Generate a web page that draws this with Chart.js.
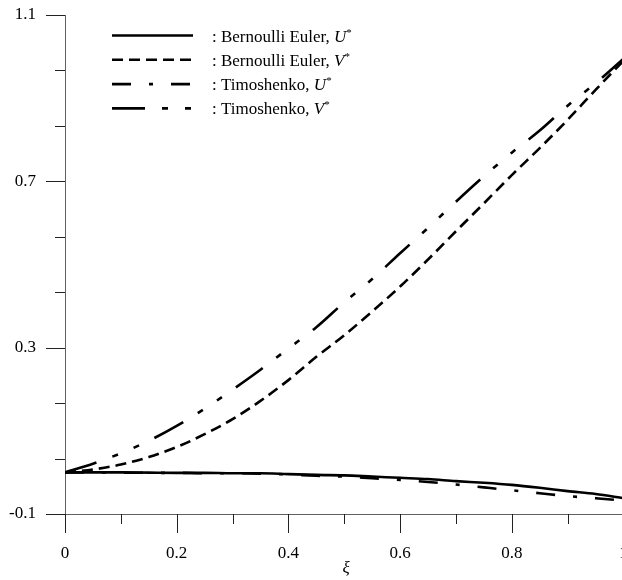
<!DOCTYPE html>
<html>
<head>
<meta charset="utf-8">
<script src="https://cdn.jsdelivr.net/npm/chart.js@4.4.0/dist/chart.umd.min.js"></script>
<style>
  html, body { margin: 0; padding: 0; background: #fff; overflow: hidden; }
  #wrap { width: 622px; height: 580px; overflow: hidden; position: relative; }
  #chart { position: absolute; left: 0; top: 0; }
</style>
</head>
<body>
<div id="wrap"><canvas id="chart" width="632" height="580"></canvas></div>
<script>
"use strict";

const xi = [0, 0.05, 0.1, 0.15, 0.2, 0.25, 0.3, 0.35, 0.4, 0.45, 0.5,
  0.55, 0.6, 0.65, 0.7, 0.75, 0.8, 0.85, 0.9, 0.95, 1];
const beU = [0, 0, 0, -0.0005, -0.001, -0.001, -0.002, -0.002, -0.004, -0.006, -0.007,
  -0.01, -0.013, -0.016, -0.021, -0.025, -0.03, -0.037, -0.045, -0.052, -0.062];
const beV = [0, 0.007, 0.019, 0.037, 0.061, 0.092, 0.128, 0.172, 0.222, 0.278, 0.33,
  0.387, 0.447, 0.512, 0.58, 0.647, 0.715, 0.78, 0.848, 0.92, 0.99];
const tiU = [0, 0, -0.0005, -0.001, -0.001, -0.002, -0.002, -0.003, -0.005, -0.008, -0.01,
  -0.014, -0.018, -0.023, -0.029, -0.036, -0.043, -0.05, -0.057, -0.062, -0.068];
const tiV = [0, 0.021, 0.046, 0.076, 0.112, 0.153, 0.199, 0.247, 0.298, 0.349, 0.409,
  0.465, 0.527, 0.588, 0.651, 0.712, 0.769, 0.822, 0.882, 0.936, 0.995];

const seriesNames = ["Bernoulli Euler", "Bernoulli Euler", "Timoshenko", "Timoshenko"];
const seriesVars = ["U", "V", "U", "V"];

const xTicks = [0, 0.1, 0.2, 0.3, 0.4, 0.5, 0.6, 0.7, 0.8, 0.9, 1];
const xTickLabels = ["0", "", "0.2", "", "0.4", "", "0.6", "", "0.8", "", "1"];
const yTicks = [-0.1, 0.03333, 0.16667, 0.3, 0.43333, 0.56667, 0.7, 0.83333, 0.96667, 1.1];
const yTickLabels = ["-0.1", "", "", "0.3", "", "", "0.7", "", "", "1.1"];

const serif = "'Liberation Serif', 'Times New Roman', serif";

const toPoints = (ys) => ys.map((y, i) => ({ x: xi[i], y: y }));

const line = function (ys, dash) {
  return {
    data: toPoints(ys),
    borderColor: "#000",
    borderWidth: 2.6,
    borderDash: dash,
    pointRadius: 0,
    fill: false,
    cubicInterpolationMode: "monotone",
  };
};

// tick marks: long for labelled ticks, short for the rest
const tickPlugin = {
  id: "tickMarks",
  afterDraw(chart) {
    const ctx = chart.ctx;
    const xs = chart.scales.x;
    const ys = chart.scales.y;
    const area = chart.chartArea;
    ctx.save();
    ctx.strokeStyle = "#222";
    ctx.lineWidth = 1;
    ctx.beginPath();
    xTicks.forEach((v, i) => {
      const px = Math.round(xs.getPixelForValue(v)) + 0.5;
      const len = xTickLabels[i] ? 19 : 10;
      ctx.moveTo(px, area.bottom);
      ctx.lineTo(px, area.bottom + len);
    });
    yTicks.forEach((v, i) => {
      const py = Math.round(ys.getPixelForValue(v)) + 0.5;
      const len = yTickLabels[i] ? 19 : 10;
      ctx.moveTo(area.left, py);
      ctx.lineTo(area.left - len, py);
    });
    ctx.stroke();

    ctx.fillStyle = "#000";
    ctx.font = "italic 17px " + serif;
    ctx.textAlign = "center";
    ctx.textBaseline = "alphabetic";
    ctx.fillText("ξ", xs.getPixelForValue(0.5) + 2, 573);
    ctx.restore();
  },
};

const legendPlugin = {
  id: "formulaLegend",
  afterDraw(chart) {
    const ctx = chart.ctx;
    chart.data.datasets.forEach((ds, i) => {
      const y = 35.5 + i * 24.3;
      ctx.save();
      ctx.strokeStyle = "#000";
      ctx.lineWidth = ds.borderWidth;
      ctx.setLineDash(ds.borderDash || []);
      ctx.beginPath();
      ctx.moveTo(112, y);
      ctx.lineTo(193, y);
      ctx.stroke();
      ctx.setLineDash([]);

      ctx.fillStyle = "#000";
      ctx.textBaseline = "alphabetic";
      let x = 212;
      const head = ": " + seriesNames[i] + ", ";
      ctx.font = "17px " + serif;
      ctx.fillText(head, x, y + 6);
      x += ctx.measureText(head).width;
      ctx.font = "italic 17px " + serif;
      ctx.fillText(seriesVars[i], x, y + 6);
      x += ctx.measureText(seriesVars[i]).width;
      ctx.font = "11px " + serif;
      ctx.fillText("*", x, y);
      ctx.restore();
    });
  },
};

new Chart(document.getElementById("chart"), {
  type: "line",
  data: {
    datasets: [
      line(beU, []),
      line(beV, [11, 6]),
      line(tiU, [19, 18, 4, 18]),
      line(tiV, [33, 17, 6, 17, 6, 17]),
    ],
  },
  options: {
    responsive: false,
    animation: false,
    layout: { padding: { left: 0, top: 15, right: 8.5, bottom: 0 } },
    plugins: {
      legend: { display: false },
      tooltip: { enabled: false },
    },
    scales: {
      x: {
        type: "linear",
        min: 0,
        max: 1,
        afterBuildTicks: (scale) => {
          scale.ticks = xTicks.map((v) => ({ value: v }));
        },
        afterFit: (scale) => {
          scale.height = 66;
          scale.paddingLeft = 0;
          scale.paddingRight = 0;
        },
        ticks: {
          autoSkip: false,
          maxRotation: 0,
          padding: 10,
          color: "#000",
          font: { family: serif, size: 17 },
          callback: (value, index) => xTickLabels[index],
        },
        grid: {
          drawOnChartArea: false,
          drawTicks: true,
          tickLength: 19,
          tickColor: "rgba(0,0,0,0)",
        },
        border: { display: true, color: "#606060", width: 1 },
      },
      y: {
        type: "linear",
        min: -0.1,
        max: 1.1,
        afterBuildTicks: (scale) => {
          scale.ticks = yTicks.map((v) => ({ value: v }));
        },
        afterFit: (scale) => {
          scale.width = 65;
          scale.paddingTop = 0;
          scale.paddingBottom = 0;
        },
        ticks: {
          autoSkip: false,
          padding: 10,
          color: "#000",
          font: { family: serif, size: 17 },
          callback: (value, index) => yTickLabels[index],
        },
        grid: {
          drawOnChartArea: false,
          drawTicks: true,
          tickLength: 19,
          tickColor: "rgba(0,0,0,0)",
        },
        border: { display: true, color: "#606060", width: 1 },
      },
    },
  },
  plugins: [tickPlugin, legendPlugin],
});
</script>
</body>
</html>
